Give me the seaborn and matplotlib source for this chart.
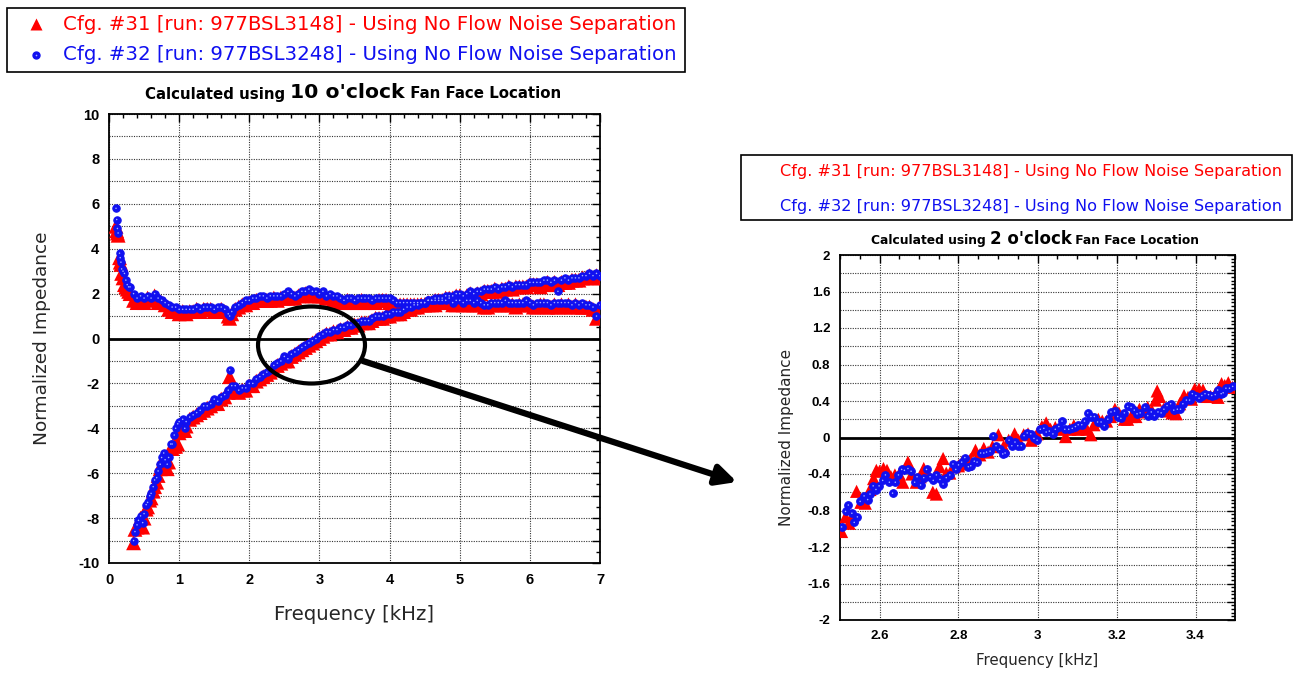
import matplotlib
matplotlib.use("Agg")
import matplotlib.pyplot as plt
import seaborn as sns
from matplotlib.ticker import MultipleLocator, FuncFormatter
from matplotlib.patches import Ellipse, Rectangle, FancyArrowPatch
from matplotlib.lines import Line2D
from matplotlib.offsetbox import TextArea, HPacker, AnchoredOffsetbox

# ---- data: 10 o'clock (left panel) ----
# resistance branch
f_res = [0.10, 0.11, 0.12, 0.13, 0.15, 0.16, 0.17, 0.18, 0.20, 0.22, 0.24, 0.26, 0.28, 0.30,
         0.35, 0.40, 0.45, 0.50, 0.55, 0.60, 0.65, 0.70, 0.75, 0.80, 0.85, 0.90, 0.95,
         1.00, 1.05, 1.10, 1.15, 1.20, 1.25, 1.30, 1.35, 1.40, 1.45, 1.50, 1.55, 1.60, 1.65, 1.70, 1.72, 1.75, 1.80, 1.85, 1.90, 1.95,
         2.00, 2.05, 2.10, 2.15, 2.20, 2.25, 2.30, 2.35, 2.40, 2.45, 2.50, 2.55, 2.60, 2.65, 2.70, 2.75, 2.80, 2.85, 2.90, 2.95,
         3.00, 3.05, 3.10, 3.15, 3.20, 3.25, 3.30, 3.35, 3.40, 3.45, 3.50, 3.55, 3.60, 3.65, 3.70, 3.75, 3.80, 3.85, 3.90, 3.95,
         4.00, 4.05, 4.10, 4.15, 4.20, 4.25, 4.30, 4.35, 4.40, 4.45, 4.50, 4.55, 4.60, 4.65, 4.70, 4.75, 4.80, 4.85, 4.90, 4.95,
         5.00, 5.05, 5.10, 5.15, 5.20, 5.25, 5.30, 5.35, 5.40, 5.45, 5.50, 5.55, 5.60, 5.65, 5.70, 5.75, 5.80, 5.85, 5.90, 5.95,
         6.00, 6.05, 6.10, 6.15, 6.20, 6.25, 6.30, 6.35, 6.40, 6.45, 6.50, 6.55, 6.60, 6.65, 6.70, 6.75, 6.80, 6.85, 6.90, 6.95, 7.00]
res_31 = [5.0, 4.8, 4.7, 4.6, 3.6, 3.4, 3.3, 2.9, 2.7, 2.4, 2.3, 2.2, 2.1, 2.0,
          1.7, 1.6, 1.7, 1.6, 1.8, 1.7, 1.9, 1.6, 1.6, 1.5, 1.3, 1.2, 1.2,
          1.1, 1.2, 1.1, 1.2, 1.2, 1.3, 1.2, 1.3, 1.3, 1.3, 1.2, 1.2, 1.3, 1.2, 1.0, 0.9, 1.1, 1.3, 1.4, 1.5, 1.5,
          1.6, 1.6, 1.7, 1.7, 1.7, 1.7, 1.7, 1.8, 1.7, 1.8, 1.8, 1.8, 1.8, 1.8, 1.9, 1.9, 2.0, 2.0, 1.9, 1.9,
          1.9, 1.9, 1.8, 1.8, 1.7, 1.7, 1.6, 1.6, 1.7, 1.6, 1.6, 1.6, 1.7, 1.6, 1.6, 1.6, 1.6, 1.7, 1.7, 1.7,
          1.6, 1.5, 1.5, 1.5, 1.5, 1.5, 1.5, 1.5, 1.5, 1.5, 1.5, 1.5, 1.5, 1.5, 1.6, 1.6, 1.6, 1.6, 1.5, 1.5,
          1.6, 1.5, 1.5, 1.5, 1.5, 1.5, 1.5, 1.4, 1.4, 1.5, 1.5, 1.5, 1.5, 1.5, 1.5, 1.5, 1.4, 1.5, 1.5, 1.5,
          1.5, 1.4, 1.4, 1.5, 1.5, 1.4, 1.4, 1.5, 1.4, 1.5, 1.4, 1.5, 1.4, 1.5, 1.4, 1.4, 1.4, 1.4, 1.3, 0.9, 1.4]
res_32 = [5.8, 5.3, 4.9, 4.7, 3.8, 3.6, 3.4, 3.1, 3.0, 2.9, 2.6, 2.4, 2.3, 2.3,
          2.0, 1.8, 1.9, 1.8, 1.9, 1.8, 2.0, 1.8, 1.7, 1.6, 1.5, 1.4, 1.4,
          1.3, 1.3, 1.3, 1.3, 1.3, 1.4, 1.3, 1.4, 1.4, 1.4, 1.3, 1.4, 1.4, 1.3, 1.1, 1.0, 1.2, 1.4, 1.5, 1.6, 1.7,
          1.7, 1.8, 1.8, 1.9, 1.9, 1.8, 1.9, 1.9, 1.9, 1.9, 2.0, 2.1, 2.0, 1.9, 2.0, 2.1, 2.1, 2.2, 2.1, 2.1,
          2.0, 2.1, 1.9, 2.0, 1.9, 1.9, 1.8, 1.7, 1.8, 1.8, 1.7, 1.8, 1.8, 1.8, 1.8, 1.7, 1.8, 1.8, 1.8, 1.8,
          1.8, 1.7, 1.6, 1.6, 1.6, 1.6, 1.6, 1.6, 1.6, 1.6, 1.6, 1.7, 1.7, 1.7, 1.7, 1.7, 1.7, 1.8, 1.6, 1.7,
          1.7, 1.6, 1.7, 1.7, 1.6, 1.7, 1.6, 1.5, 1.5, 1.6, 1.6, 1.6, 1.6, 1.7, 1.6, 1.6, 1.6, 1.6, 1.6, 1.7,
          1.6, 1.5, 1.6, 1.6, 1.6, 1.6, 1.5, 1.6, 1.6, 1.6, 1.6, 1.6, 1.5, 1.6, 1.5, 1.6, 1.5, 1.5, 1.4, 1.0, 1.5]

# reactance branch
f_reac = [0.35, 0.37, 0.40, 0.42, 0.45, 0.48, 0.50, 0.53, 0.55, 0.58, 0.60, 0.63, 0.65, 0.68, 0.70, 0.73, 0.75, 0.78,
          0.80, 0.83, 0.85, 0.88, 0.90, 0.93, 0.95, 0.98, 1.00,
          1.05, 1.08, 1.10, 1.15, 1.20, 1.25, 1.30, 1.35, 1.40, 1.45, 1.50, 1.55, 1.60, 1.65, 1.70, 1.72, 1.75, 1.80, 1.85, 1.90, 1.95,
          2.00, 2.05, 2.10, 2.15, 2.20, 2.25, 2.30, 2.35, 2.40, 2.45, 2.50, 2.55, 2.60, 2.65, 2.70, 2.75, 2.80, 2.85, 2.90, 2.95,
          3.00, 3.05, 3.10, 3.15, 3.20, 3.25, 3.30, 3.35, 3.40, 3.45, 3.50, 3.55, 3.60, 3.65, 3.70, 3.75, 3.80, 3.85, 3.90, 3.95,
          4.00, 4.05, 4.10, 4.15, 4.20, 4.25, 4.30, 4.35, 4.40, 4.45, 4.50, 4.55, 4.60, 4.65, 4.70, 4.75, 4.80, 4.85, 4.90, 4.95,
          5.00, 5.05, 5.10, 5.15, 5.20, 5.25, 5.30, 5.35, 5.40, 5.45, 5.50, 5.55, 5.60, 5.65, 5.70, 5.75, 5.80, 5.85, 5.90, 5.95,
          6.00, 6.05, 6.10, 6.15, 6.20, 6.25, 6.30, 6.35, 6.40, 6.45, 6.50, 6.55, 6.60, 6.65, 6.70, 6.75, 6.80, 6.85, 6.90, 6.95, 7.00]
reac_31 = [-9.1, -8.5, -8.4, -8.3, -8.0, -8.4, -8.0, -7.6, -7.5, -7.2, -7.1, -6.8, -6.6, -6.4, -6.1, -5.8, -5.6, -5.3,
           -5.5, -5.8, -5.5, -4.9, -4.9, -4.8, -4.8, -4.7, -4.2,
           -3.8, -4.1, -3.9, -3.6, -3.5, -3.4, -3.3, -3.2, -3.1, -3.0, -2.9, -2.9, -2.7, -2.6, -2.4, -1.7, -2.3, -2.3, -2.4, -2.3, -2.3,
           -2.1, -2.1, -1.9, -1.8, -1.7, -1.6, -1.5, -1.4, -1.2, -1.1, -1.0, -1.0, -0.8, -0.7, -0.6, -0.5, -0.4, -0.3, -0.2, -0.1,
           0.0, 0.1, 0.2, 0.2, 0.3, 0.3, 0.4, 0.4, 0.5, 0.5, 0.6, 0.6, 0.7, 0.7, 0.7, 0.8, 0.9, 0.9, 0.9, 1.0,
           1.0, 1.1, 1.1, 1.1, 1.2, 1.3, 1.3, 1.4, 1.4, 1.5, 1.5, 1.6, 1.6, 1.7, 1.7, 1.7, 1.8, 1.8, 1.8, 1.9,
           1.9, 1.8, 1.9, 2.0, 1.9, 2.0, 2.0, 2.1, 2.1, 2.1, 2.2, 2.1, 2.2, 2.2, 2.3, 2.2, 2.3, 2.3, 2.3, 2.3,
           2.4, 2.4, 2.4, 2.3, 2.4, 2.5, 2.4, 2.5, 2.4, 2.5, 2.5, 2.5, 2.6, 2.6, 2.6, 2.7, 2.7, 2.8, 2.7, 2.8, 2.7]
reac_32 = [-9.0, -8.6, -8.3, -8.1, -7.9, -8.2, -7.8, -7.4, -7.3, -7.0, -6.9, -6.6, -6.3, -6.2, -5.9, -5.6, -5.3, -5.1,
           -5.4, -5.6, -5.3, -4.7, -4.7, -4.3, -4.0, -3.8, -3.7,
           -3.6, -4.0, -3.7, -3.5, -3.4, -3.3, -3.2, -3.0, -3.0, -2.9, -2.7, -2.8, -2.6, -2.5, -2.3, -1.4, -2.1, -2.1, -2.3, -2.2, -2.2,
           -2.0, -2.0, -1.8, -1.7, -1.6, -1.5, -1.4, -1.2, -1.1, -1.0, -0.8, -0.9, -0.7, -0.6, -0.5, -0.4, -0.3, -0.2, -0.1, 0.0,
           0.1, 0.2, 0.3, 0.3, 0.4, 0.4, 0.5, 0.5, 0.6, 0.6, 0.7, 0.7, 0.8, 0.8, 0.8, 0.9, 1.0, 1.0, 1.0, 1.1,
           1.1, 1.2, 1.2, 1.2, 1.3, 1.4, 1.4, 1.5, 1.5, 1.6, 1.6, 1.7, 1.7, 1.8, 1.8, 1.8, 1.9, 1.9, 1.9, 2.0,
           2.0, 1.9, 2.0, 2.1, 2.0, 2.1, 2.1, 2.2, 2.2, 2.2, 2.3, 2.2, 2.3, 2.3, 2.4, 2.3, 2.4, 2.4, 2.4, 2.4,
           2.5, 2.5, 2.5, 2.5, 2.6, 2.6, 2.5, 2.6, 2.1, 2.6, 2.7, 2.6, 2.7, 2.7, 2.7, 2.8, 2.8, 2.9, 2.8, 2.9, 2.8]

# ---- data: 2 o'clock zoom (right panel) ----
zf_31 = [2.504, 2.514, 2.523, 2.531, 2.542, 2.553, 2.564, 2.576, 2.585, 2.592, 2.600, 2.610, 2.619, 2.629, 2.639,
         2.650, 2.659, 2.672, 2.682, 2.693, 2.703, 2.712, 2.723, 2.735, 2.744, 2.752, 2.761, 2.769, 2.778, 2.789,
         2.800, 2.809, 2.820, 2.830, 2.843, 2.854, 2.864, 2.875, 2.886, 2.901, 2.914, 2.927, 2.942, 2.952, 2.965,
         2.976, 2.984, 2.999, 3.011, 3.022, 3.033, 3.045, 3.057, 3.071, 3.082, 3.092, 3.103, 3.113, 3.125, 3.135,
         3.143, 3.154, 3.164, 3.175, 3.185, 3.196, 3.206, 3.220, 3.228, 3.237, 3.249, 3.258, 3.268, 3.279, 3.290,
         3.299, 3.303, 3.309, 3.319, 3.330, 3.341, 3.351, 3.360, 3.371, 3.381, 3.390, 3.398, 3.409, 3.419, 3.428,
         3.438, 3.449, 3.457, 3.466, 3.474, 3.483, 3.494]
zv_31 = [-1.03, -0.87, -0.94, -0.87, -0.59, -0.71, -0.72, -0.57, -0.45, -0.36, -0.37, -0.34, -0.36, -0.43, -0.41,
         -0.40, -0.49, -0.27, -0.40, -0.49, -0.43, -0.34, -0.40, -0.60, -0.62, -0.32, -0.23, -0.39, -0.39, -0.32,
         -0.31, -0.27, -0.29, -0.24, -0.14, -0.19, -0.12, -0.16, -0.10, 0.03, -0.10, -0.03, 0.04, -0.03, 0.03,
         0.04, -0.03, 0.04, 0.12, 0.16, 0.09, 0.11, 0.09, 0.01, 0.09, 0.13, 0.09, 0.11, 0.09, 0.03,
         0.14, 0.20, 0.18, 0.18, 0.23, 0.31, 0.27, 0.20, 0.20, 0.23, 0.23, 0.31, 0.28, 0.33, 0.29,
         0.41, 0.51, 0.45, 0.31, 0.29, 0.27, 0.26, 0.37, 0.46, 0.44, 0.42, 0.53, 0.53, 0.52, 0.45,
         0.45, 0.47, 0.44, 0.59, 0.57, 0.60, 0.55]
zf_32 = [2.504, 2.514, 2.521, 2.530, 2.536, 2.544, 2.551, 2.561, 2.570, 2.576, 2.584, 2.591, 2.599, 2.608, 2.615,
         2.625, 2.633, 2.640, 2.648, 2.656, 2.663, 2.672, 2.680, 2.689, 2.695, 2.704, 2.712, 2.719, 2.728, 2.736,
         2.744, 2.753, 2.761, 2.769, 2.778, 2.786, 2.793, 2.800, 2.808, 2.816, 2.825, 2.831, 2.840, 2.847, 2.856,
         2.864, 2.871, 2.880, 2.888, 2.895, 2.904, 2.912, 2.918, 2.928, 2.935, 2.943, 2.950, 2.959, 2.966, 2.974,
         2.983, 2.991, 2.999, 3.007, 3.016, 3.022, 3.030, 3.039, 3.045, 3.054, 3.062, 3.069, 3.079, 3.088, 3.096,
         3.103, 3.112, 3.119, 3.127, 3.135, 3.144, 3.152, 3.161, 3.169, 3.178, 3.186, 3.195, 3.203, 3.211, 3.220,
         3.228, 3.237, 3.245, 3.252, 3.260, 3.271, 3.279, 3.288, 3.296, 3.305, 3.313, 3.320, 3.328, 3.337, 3.345,
         3.354, 3.362, 3.368, 3.377, 3.385, 3.392, 3.401, 3.409, 3.416, 3.424, 3.433, 3.441, 3.450, 3.456, 3.465,
         3.470, 3.477, 3.486, 3.494]
zv_32 = [-0.98, -0.81, -0.74, -0.83, -0.93, -0.87, -0.70, -0.64, -0.68, -0.62, -0.53, -0.57, -0.53, -0.47, -0.41,
         -0.49, -0.61, -0.49, -0.41, -0.35, -0.36, -0.34, -0.37, -0.49, -0.43, -0.52, -0.44, -0.35, -0.43, -0.47,
         -0.41, -0.46, -0.51, -0.44, -0.41, -0.29, -0.35, -0.30, -0.27, -0.22, -0.32, -0.31, -0.26, -0.27, -0.17,
         -0.17, -0.16, -0.15, 0.02, -0.09, -0.13, -0.18, -0.17, -0.03, -0.09, -0.05, -0.09, -0.09, 0.02, 0.05,
         0.04, -0.01, -0.03, 0.09, 0.10, 0.06, 0.07, 0.04, 0.09, 0.12, 0.18, 0.09, 0.09, 0.10, 0.12,
         0.14, 0.14, 0.18, 0.27, 0.23, 0.23, 0.17, 0.17, 0.13, 0.20, 0.28, 0.29, 0.23, 0.21, 0.27,
         0.34, 0.33, 0.30, 0.26, 0.27, 0.33, 0.24, 0.28, 0.24, 0.28, 0.27, 0.31, 0.35, 0.37, 0.30,
         0.31, 0.31, 0.37, 0.41, 0.41, 0.48, 0.46, 0.43, 0.46, 0.48, 0.47, 0.46, 0.47, 0.52, 0.48,
         0.49, 0.54, 0.54, 0.56]

label_31 = "Cfg. #31 [run: 977BSL3148] - Using No Flow Noise Separation"
label_32 = "Cfg. #32 [run: 977BSL3248] - Using No Flow Noise Separation"

RED = "#ff0000"
BLUE = "#1010f0"
W, H = 1297, 675

sns.set_style("white")
plt.rcParams["font.family"] = ["DejaVu Sans"]

fig = plt.figure(figsize=(W / 100, H / 100), dpi=100)


def px(x, y):
    return x / W, 1 - y / H


def style_axes(ax, xmaj, xmin, ymaj, ymin, ystep, fs):
    ax.xaxis.set_major_locator(MultipleLocator(xmaj))
    ax.xaxis.set_minor_locator(MultipleLocator(xmin))
    ax.yaxis.set_major_locator(MultipleLocator(ymaj))
    ax.yaxis.set_minor_locator(MultipleLocator(ymin))
    ax.xaxis.set_major_formatter(FuncFormatter(lambda v, p: f"{v:g}"))
    ax.yaxis.set_major_formatter(FuncFormatter(
        lambda v, p: f"{round(v, 6):g}" if abs(v / ystep - round(v / ystep)) < 1e-6 else ""))
    ax.tick_params(which="both", direction="in", top=True, right=True, width=1.0, colors="black")
    ax.tick_params(which="major", length=6, labelsize=fs, pad=7)
    ax.tick_params(which="minor", length=3)
    ax.grid(which="major", linestyle=(0, (1, 1.2)), color="#333333", linewidth=0.8)
    ax.set_axisbelow(True)
    for s in ax.spines.values():
        s.set_color("black")
        s.set_linewidth(1.3)
    for lbl in ax.get_xticklabels() + ax.get_yticklabels():
        lbl.set_fontfamily("Liberation Sans")
        lbl.set_fontweight("bold")
    ax.axhline(0, color="black", lw=2, zorder=2)


def title(cx, cy, big, fs_small, fs_big):
    tp = dict(fontfamily="DejaVu Sans", fontweight="bold", color="black")
    parts = [TextArea("Calculated using ", textprops=dict(tp, fontsize=fs_small)),
             TextArea(big, textprops=dict(tp, fontsize=fs_big)),
             TextArea(" Fan Face Location", textprops=dict(tp, fontsize=fs_small))]
    box = HPacker(children=parts, align="baseline", pad=0, sep=0)
    anc = AnchoredOffsetbox(loc="center", child=box, pad=0, borderpad=0, frameon=False,
                            bbox_to_anchor=px(cx, cy), bbox_transform=fig.transFigure)
    fig.add_artist(anc)


def blue_points(ax, f, v, size):
    sns.scatterplot(x=f, y=v, marker="o", color=BLUE, edgecolor=BLUE, linewidth=0.8, s=size,
                    ax=ax, legend=False, zorder=4)
    sns.scatterplot(x=f, y=v, marker="o", color="#a8b4ff", edgecolor="none", s=1.2,
                    ax=ax, legend=False, zorder=5)


# ---- left panel ----
ax1 = fig.add_axes([109 / W, 1 - 563 / H, (600 - 109) / W, (563 - 114) / H])
for f, v in [(f_res, res_31), (f_reac, reac_31)]:
    sns.scatterplot(x=f, y=v, marker="^", color=RED, s=115, edgecolor="none", ax=ax1, legend=False, zorder=3)
for f, v in [(f_res, res_32), (f_reac, reac_32)]:
    blue_points(ax1, f, v, 28)
ax1.set_xlim(0, 7)
ax1.set_ylim(-10, 10)
style_axes(ax1, 1, 0.2, 1, 0.5, 2, 10.5)
ax1.set_xlabel("Frequency [kHz]", fontsize=14.2)
ax1.set_ylabel("Normalized Impedance", fontsize=13.3)
ax1.xaxis.set_label_coords(0.5, (563 - 615) / 449)
ax1.xaxis.label.set_va("center")
ax1.yaxis.set_label_coords((42 - 109) / 491, 0.5)
ax1.yaxis.label.set_va("center")
ax1.add_patch(Ellipse((2.887, -0.29), 1.525, 3.43, fill=False, lw=3, ec="black", zorder=6, clip_on=False))
title(353, 93, "10 o'clock", 10.8, 14.7)

# ---- right panel ----
ax2 = fig.add_axes([840 / W, 1 - 620 / H, (1235 - 840) / W, (620 - 255) / H])
sns.scatterplot(x=zf_31, y=zv_31, marker="^", color=RED, s=90, edgecolor="none", ax=ax2, legend=False, zorder=3)
blue_points(ax2, zf_32, zv_32, 30)
ax2.set_xlim(2.5, 3.5)
ax2.set_ylim(-2, 2)
style_axes(ax2, 0.2, 0.05, 0.2, 0.04, 0.4, 9.5)
ax2.set_xlabel("Frequency [kHz]", fontsize=10.8)
ax2.set_ylabel("Normalized Impedance", fontsize=11)
ax2.xaxis.set_label_coords(0.5, (620 - 661) / 365)
ax2.xaxis.label.set_va("center")
ax2.yaxis.set_label_coords((786 - 840) / 395, 0.5)
ax2.yaxis.label.set_va("center")
title(1035, 239, "2 o'clock", 8.85, 12)

# ---- arrow from circled region to zoom panel ----
fig.add_artist(FancyArrowPatch(px(363, 361), px(737, 482), transform=fig.transFigure,
                               arrowstyle="-|>,head_length=12,head_width=6", lw=4.5,
                               color="black", shrinkA=0, shrinkB=0, mutation_scale=1))

# ---- legend boxes ----
x0, y0 = px(7, 72)
x1, y1 = px(685, 8)
fig.add_artist(Rectangle((x0, y0), x1 - x0, y1 - y0, transform=fig.transFigure,
                         fill=False, ec="black", lw=1.2))
fig.add_artist(Line2D([36 / W], [1 - 24 / H], marker="^", color=RED, ms=8, mec="none",
                      transform=fig.transFigure))
fig.add_artist(Line2D([36 / W], [1 - 55 / H], marker="o", color=BLUE, mec=BLUE, ms=5,
                      transform=fig.transFigure))
fig.add_artist(Line2D([36 / W], [1 - 55 / H], marker="o", color="#a8b4ff", mec="none", ms=1.2,
                      transform=fig.transFigure))
fig.text(*px(63, 24), label_31, color=RED, fontsize=14.2, va="center", ha="left")
fig.text(*px(63, 55), label_32, color=BLUE, fontsize=14.2, va="center", ha="left")

x0, y0 = px(741, 220)
x1, y1 = px(1292, 155)
fig.add_artist(Rectangle((x0, y0), x1 - x0, y1 - y0, transform=fig.transFigure,
                         fill=False, ec="black", lw=1.2))
fig.text(*px(1282, 171), label_31, color=RED, fontsize=11.6, va="center", ha="right")
fig.text(*px(1282, 206), label_32, color=BLUE, fontsize=11.6, va="center", ha="right")

fig.savefig("out.png", dpi=100, facecolor="white")
